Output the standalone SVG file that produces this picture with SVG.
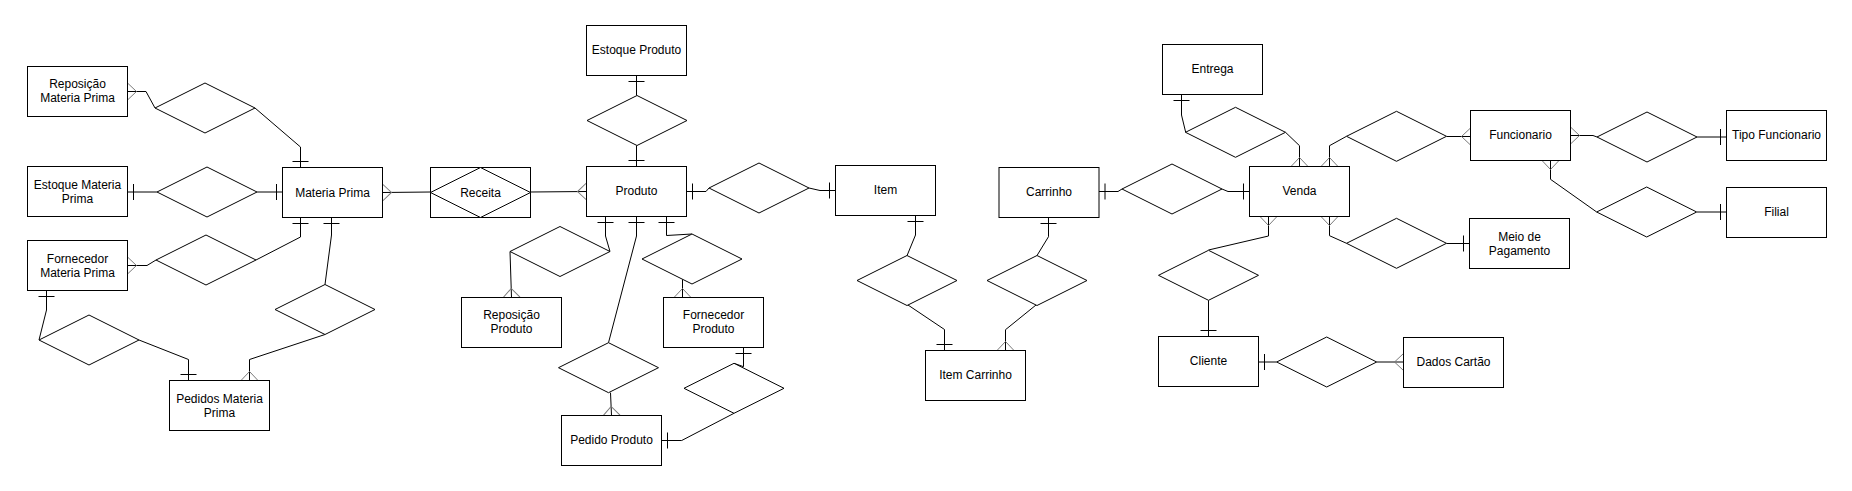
<svg xmlns="http://www.w3.org/2000/svg" width="1852" height="491" viewBox="0 0 1852 491">
<style>
.ent rect{fill:#fff;stroke:#000;stroke-width:1}
.rel polygon{fill:#fff;stroke:#000;stroke-width:1}
.conn path{fill:none;stroke:#000;stroke-width:1}
.one{marker-end:url(#one)}
.many{marker-end:url(#many)}
text{font-family:"Liberation Sans",Arial,sans-serif;font-size:12px;fill:#000;text-anchor:middle;dominant-baseline:central}
</style>
<defs>
<marker id="one" viewBox="-20 -10 20 20" refX="0" refY="0" markerWidth="20" markerHeight="20" markerUnits="userSpaceOnUse" orient="auto" overflow="visible">
<path d="M-6,-8 L-6,8" stroke="#000" stroke-width="1" fill="none"/>
</marker>
<marker id="many" viewBox="-20 -10 20 20" refX="0" refY="0" markerWidth="20" markerHeight="20" markerUnits="userSpaceOnUse" orient="auto" overflow="visible">
<path d="M0,-8.5 L-9,0 L0,8.5" stroke="#7a7a7a" stroke-width="1" fill="none"/>
</marker>
</defs>
<rect width="1852" height="491" fill="#fff"/>

<g id="connectors" class="conn">
<path class="many" d="M155,108 L146,91.5 L127.5,91.5"/>
<path class="one" d="M255,108 L300.5,147 L300.5,167.5"/>
<path class="one" d="M157,192 L127.5,192"/>
<path class="one" d="M257,192 L282.5,192"/>
<path class="many" d="M156,260 L147,265.5 L127.5,265.5"/>
<path class="one" d="M256,260 L300.5,237 L300.5,217.5"/>
<path class="one" d="M325,284.5 L331.5,235 L331.5,217.5"/>
<path class="many" d="M325,334.5 L249.5,359.5 L249.5,380.5"/>
<path class="one" d="M39,340 L46.5,310 L46.5,290.5"/>
<path class="one" d="M139,340 L188.5,359.5 L188.5,380.5"/>
<path class="many" d="M430.5,192 L382.5,192.5"/>
<path class="many" d="M530.5,192 L586.5,191.5"/>
<path class="one" d="M636.5,95.5 L636.5,75.5"/>
<path class="one" d="M636.5,145.5 L636.5,166.5"/>
<path class="one" d="M709,188 L706,191.5 L686.5,191.5"/>
<path class="one" d="M809,188 L820,190.5 L835.5,190.5"/>
<path class="one" d="M610,251.5 L605.5,236 L605.5,216.5"/>
<path class="many" d="M510,251.5 L511.5,297.5"/>
<path class="one" d="M608.5,342.7 L636.5,236 L636.5,216.5"/>
<path class="many" d="M610.5,392.7 L611.5,415.5"/>
<path class="one" d="M692,234 L666.5,235.5 L666.5,216.5"/>
<path class="many" d="M682.5,279.3 L682.5,297.5"/>
<path class="one" d="M734,363.3 L743.5,366.7 L743.5,347.5"/>
<path class="one" d="M734,413.3 L681.7,440.5 L661.5,440.5"/>
<path class="one" d="M907,255.7 L915.5,235 L915.5,215.5"/>
<path class="one" d="M908,305 L944.5,329.5 L944.5,350.5"/>
<path class="one" d="M1037,255.5 L1048.5,236.7 L1048.5,217.5"/>
<path class="many" d="M1036,305 L1005.5,329.7 L1005.5,350.5"/>
<path class="one" d="M1122,189 L1118,191.5 L1099,191.5"/>
<path class="one" d="M1222,189 L1228,191.5 L1249.5,191.5"/>
<path class="one" d="M1185.7,132.3 L1181.5,115 L1181.5,94.5"/>
<path class="many" d="M1285.5,132.3 L1299.5,145.7 L1299.5,166.5"/>
<path class="many" d="M1346.5,136.3 L1329.5,145.7 L1329.5,166.5"/>
<path class="many" d="M1446.5,136.5 L1470.5,136.5"/>
<path class="many" d="M1346.5,243.3 L1329.5,235.7 L1329.5,216.5"/>
<path class="one" d="M1446.5,243.5 L1469.5,243.5"/>
<path class="many" d="M1208.5,250 L1268.5,236 L1268.5,216.5"/>
<path class="one" d="M1208.5,300.3 L1208.5,336.5"/>
<path class="one" d="M1276.7,362 L1258.5,362"/>
<path class="many" d="M1376.7,362 L1403.5,362"/>
<path class="many" d="M1597,137 L1593,135.5 L1570.5,135.5"/>
<path class="one" d="M1697,137 L1726.5,137"/>
<path class="many" d="M1596.7,212 L1550.5,179.3 L1550.5,160.5"/>
<path class="one" d="M1697,212 L1726.5,212"/>
</g>

<g id="rep_mp" class="ent"><rect x="27.5" y="66.5" width="100" height="50"/><text x="77.5" y="84">Reposição</text><text x="77.5" y="98">Materia Prima</text></g>
<g id="est_mp" class="ent"><rect x="27.5" y="166.5" width="100" height="50"/><text x="77.5" y="184.5">Estoque Materia</text><text x="77.5" y="198.5">Prima</text></g>
<g id="forn_mp" class="ent"><rect x="27.5" y="240.5" width="100" height="50"/><text x="77.5" y="258.5">Fornecedor</text><text x="77.5" y="272.5">Materia Prima</text></g>
<g id="mp" class="ent"><rect x="282.5" y="167.5" width="100" height="50"/><text x="332.5" y="192.5">Materia Prima</text></g>
<g id="ped_mp" class="ent"><rect x="169.5" y="380.5" width="100" height="50"/><text x="219.5" y="398.5">Pedidos Materia</text><text x="219.5" y="412.5">Prima</text></g>
<g id="receita" class="ent rel"><rect x="430.5" y="167.5" width="100" height="50"/><polygon points="430.5,192.5 480.5,167.5 530.5,192.5 480.5,217.5"/><text x="480.5" y="192.5">Receita</text></g>
<g id="est_prod" class="ent"><rect x="586.5" y="25.5" width="100" height="50"/><text x="636.5" y="50">Estoque Produto</text></g>
<g id="produto" class="ent"><rect x="586.5" y="166.5" width="100" height="50"/><text x="636.5" y="191">Produto</text></g>
<g id="rep_prod" class="ent"><rect x="461.5" y="297.5" width="100" height="50"/><text x="511.5" y="315">Reposição</text><text x="511.5" y="329">Produto</text></g>
<g id="forn_prod" class="ent"><rect x="663.5" y="297.5" width="100" height="50"/><text x="713.5" y="315">Fornecedor</text><text x="713.5" y="329">Produto</text></g>
<g id="ped_prod" class="ent"><rect x="561.5" y="415.5" width="100" height="50"/><text x="611.5" y="440">Pedido Produto</text></g>
<g id="item" class="ent"><rect x="835.5" y="165.5" width="100" height="50"/><text x="885.5" y="190">Item</text></g>
<g id="carrinho" class="ent"><rect x="999" y="167.5" width="100" height="50"/><text x="1049" y="192">Carrinho</text></g>
<g id="item_carr" class="ent"><rect x="925.5" y="350.5" width="100" height="50"/><text x="975.5" y="375">Item Carrinho</text></g>
<g id="entrega" class="ent"><rect x="1162.5" y="44.5" width="100" height="50"/><text x="1212.5" y="69">Entrega</text></g>
<g id="venda" class="ent"><rect x="1249.5" y="166.5" width="100" height="50"/><text x="1299.5" y="191">Venda</text></g>
<g id="cliente" class="ent"><rect x="1158.5" y="336.5" width="100" height="50"/><text x="1208.5" y="361">Cliente</text></g>
<g id="dados" class="ent"><rect x="1403.5" y="337.5" width="100" height="50"/><text x="1453.5" y="362">Dados Cartão</text></g>
<g id="func" class="ent"><rect x="1470.5" y="110.5" width="100" height="50"/><text x="1520.5" y="135">Funcionario</text></g>
<g id="meio" class="ent"><rect x="1469.5" y="218.5" width="100" height="50"/><text x="1519.5" y="236.5">Meio de</text><text x="1519.5" y="250.5">Pagamento</text></g>
<g id="tipo" class="ent"><rect x="1726.5" y="110.5" width="100" height="50"/><text x="1776.5" y="135">Tipo Funcionario</text></g>
<g id="filial" class="ent"><rect x="1726.5" y="187.5" width="100" height="50"/><text x="1776.5" y="212">Filial</text></g>

<g id="d1" class="rel"><polygon points="155,108 205,83 255,108 205,133"/></g>
<g id="d2" class="rel"><polygon points="157,192 207,167 257,192 207,217"/></g>
<g id="d3" class="rel"><polygon points="156,260 206,235 256,260 206,285"/></g>
<g id="d4" class="rel"><polygon points="275,309.5 325,284.5 375,309.5 325,334.5"/></g>
<g id="d5" class="rel"><polygon points="39,340 89,315 139,340 89,365"/></g>
<g id="d6" class="rel"><polygon points="587,120.5 637,95.5 687,120.5 637,145.5"/></g>
<g id="d7" class="rel"><polygon points="709,188 759,163 809,188 759,213"/></g>
<g id="d8" class="rel"><polygon points="510,251.5 560,226.5 610,251.5 560,276.5"/></g>
<g id="d9" class="rel"><polygon points="558.5,367.7 608.5,342.7 658.5,367.7 608.5,392.7"/></g>
<g id="d10" class="rel"><polygon points="642,259 692,234 742,259 692,284"/></g>
<g id="d11" class="rel"><polygon points="684,388.3 734,363.3 784,388.3 734,413.3"/></g>
<g id="d12" class="rel"><polygon points="857,280.5 907,255.5 957,280.5 907,305.5"/></g>
<g id="d13" class="rel"><polygon points="987,280.5 1037,255.5 1087,280.5 1037,305.5"/></g>
<g id="d14" class="rel"><polygon points="1122,189 1172,164 1222,189 1172,214"/></g>
<g id="d15" class="rel"><polygon points="1185.5,132.3 1235.5,107.3 1285.5,132.3 1235.5,157.3"/></g>
<g id="d16" class="rel"><polygon points="1346.5,136.3 1396.5,111.3 1446.5,136.3 1396.5,161.3"/></g>
<g id="d17" class="rel"><polygon points="1346.5,243.3 1396.5,218.3 1446.5,243.3 1396.5,268.3"/></g>
<g id="d18" class="rel"><polygon points="1158.5,275.3 1208.5,250.3 1258.5,275.3 1208.5,300.3"/></g>
<g id="d19" class="rel"><polygon points="1276.7,362 1326.7,337 1376.7,362 1326.7,387"/></g>
<g id="d20" class="rel"><polygon points="1597,137 1647,112 1697,137 1647,162"/></g>
<g id="d21" class="rel"><polygon points="1596.7,212 1646.7,187 1696.7,212 1646.7,237"/></g>
</svg>
